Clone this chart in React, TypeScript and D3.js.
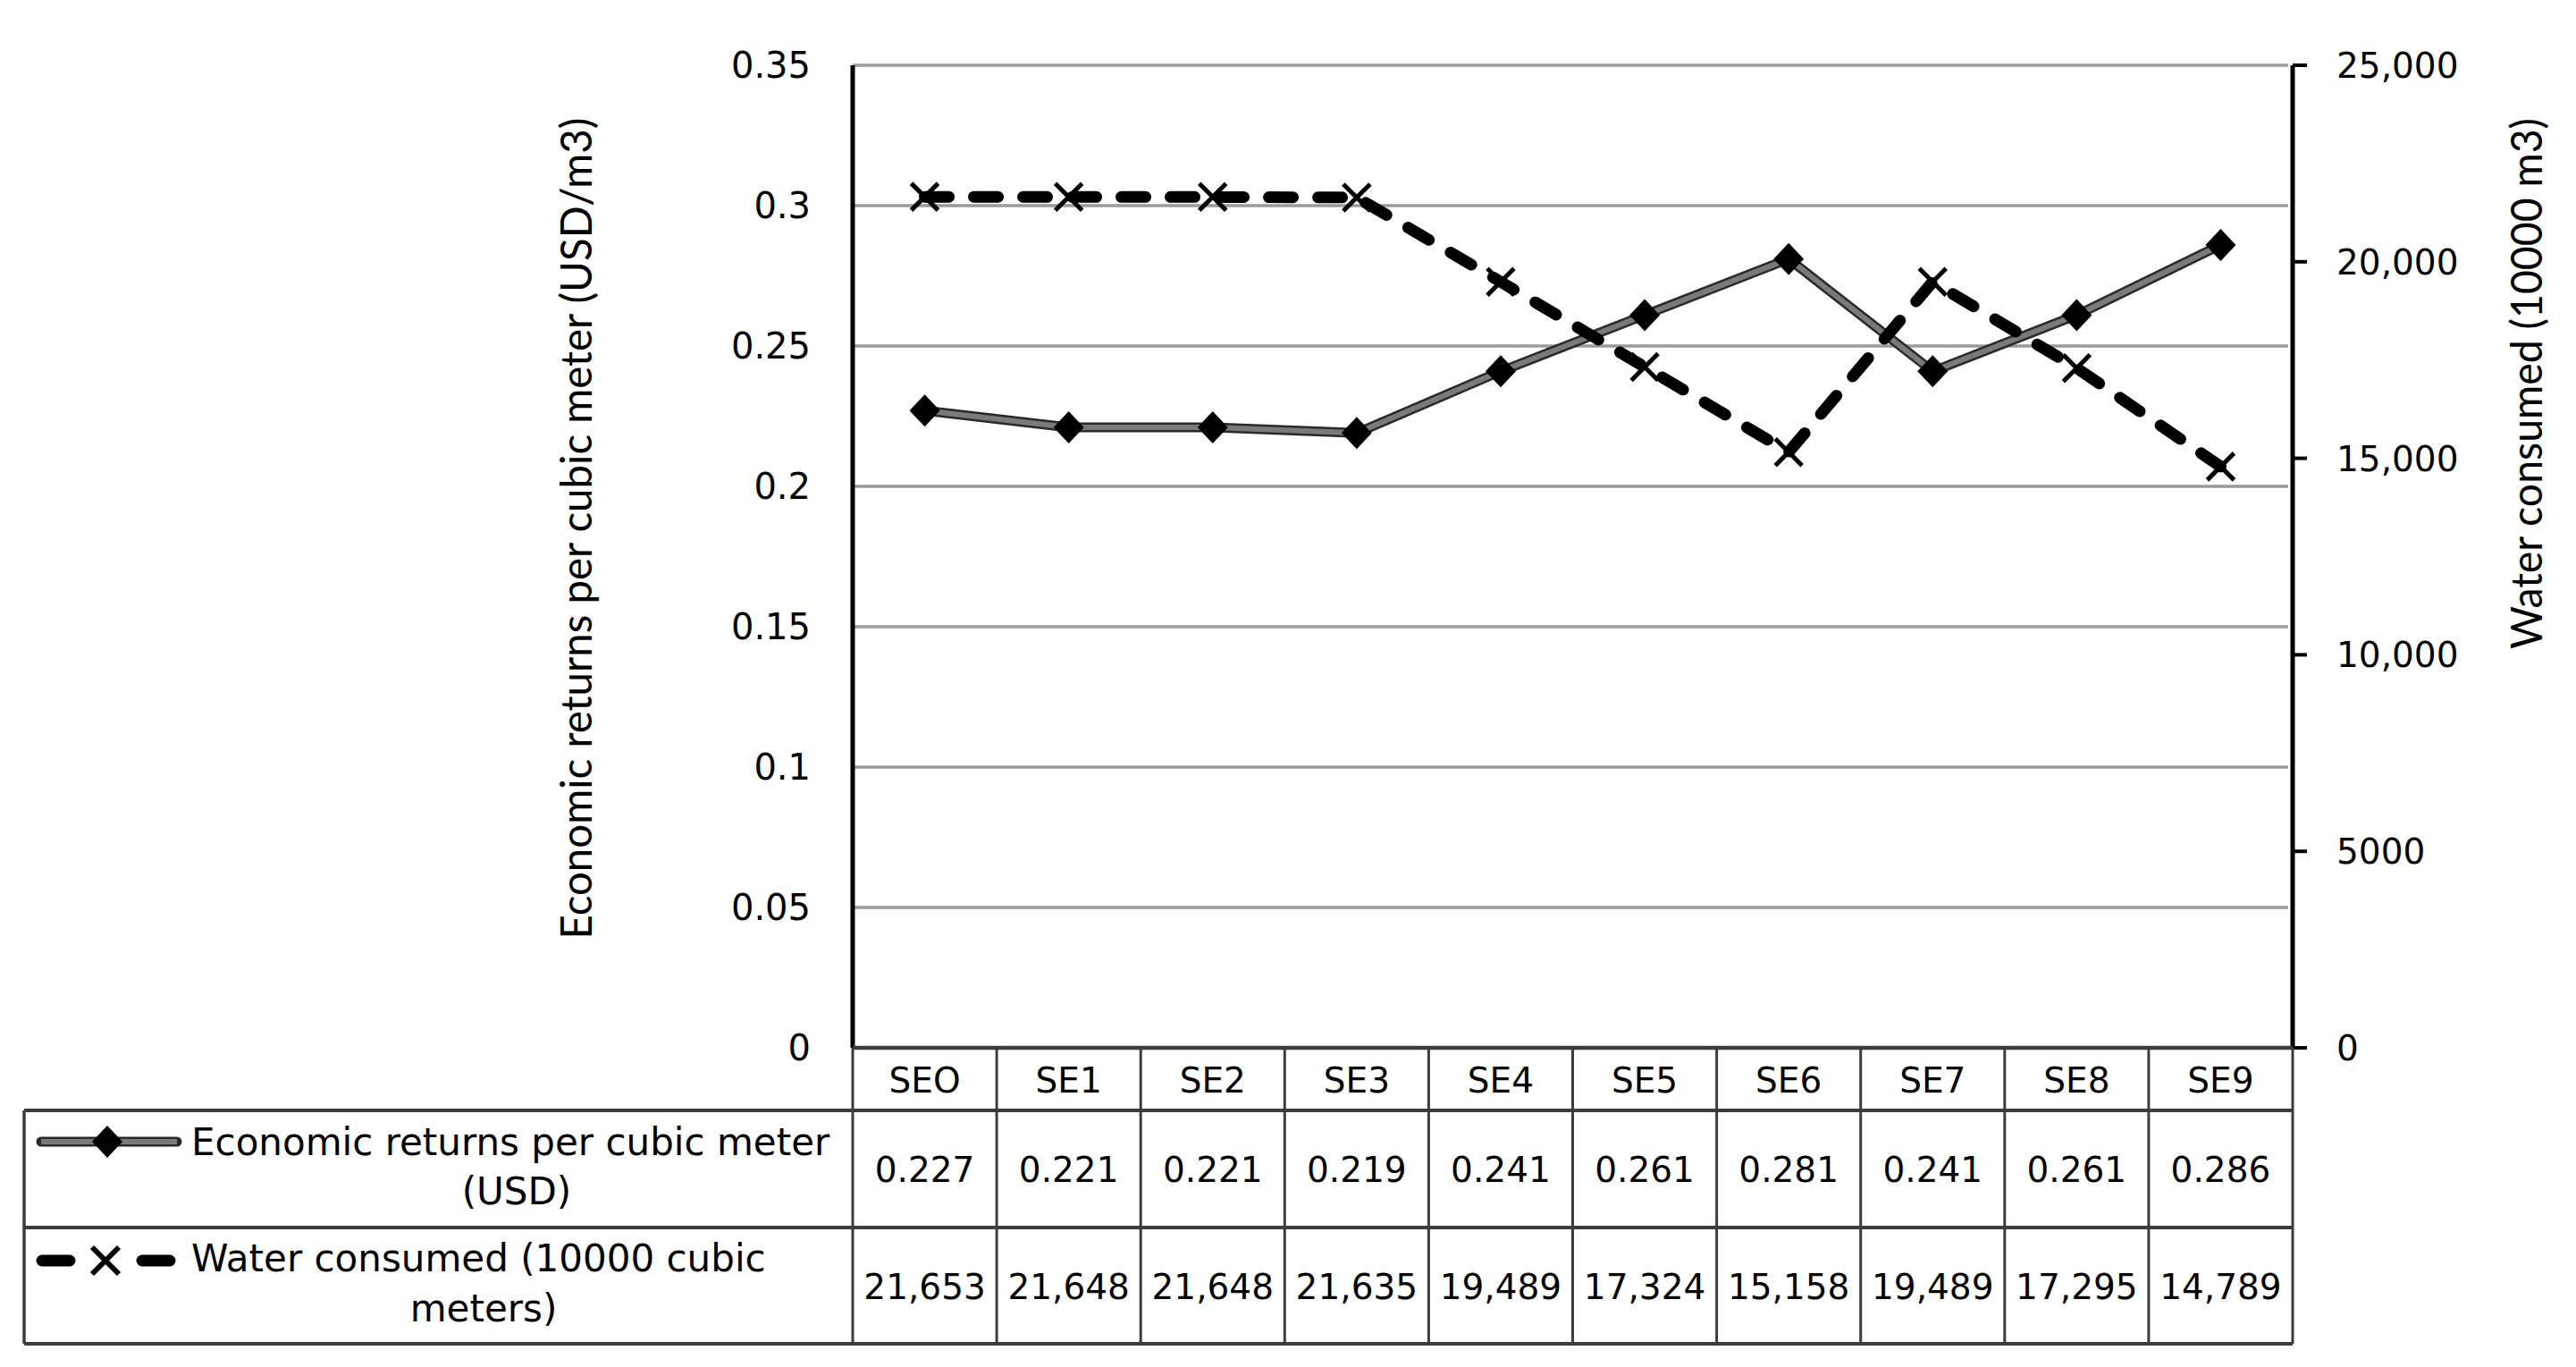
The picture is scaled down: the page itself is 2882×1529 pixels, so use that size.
import React from 'react';
import * as d3 from 'd3';

const categories = ['SEO', 'SE1', 'SE2', 'SE3', 'SE4', 'SE5', 'SE6', 'SE7', 'SE8', 'SE9'];
const economicReturns = [0.227, 0.221, 0.221, 0.219, 0.241, 0.261, 0.281, 0.241, 0.261, 0.286];
const waterConsumed = [21653, 21648, 21648, 21635, 19489, 17324, 15158, 19489, 17295, 14789];
const economicLabels = ['0.227', '0.221', '0.221', '0.219', '0.241', '0.261', '0.281', '0.241', '0.261', '0.286'];
const waterLabels = ['21,653', '21,648', '21,648', '21,635', '19,489', '17,324', '15,158', '19,489', '17,295', '14,789'];
const leftTicks = [0, 0.05, 0.1, 0.15, 0.2, 0.25, 0.3, 0.35];
const rightTicks = [0, 5000, 10000, 15000, 20000, 25000];
const rightTickLabels = ['0', '5000', '10,000', '15,000', '20,000', '25,000'];
const leftTitle = 'Economic returns per cubic meter (USD/m3)';
const rightTitle = 'Water consumed (10000 m3)';
const row1Lines = ['Economic returns per cubic meter', '(USD)'];
const row2Lines = ['Water consumed (10000 cubic', 'meters)'];

const W = 2882;
const H = 1529;
const plotL = 954;
const plotR = 2565;
const plotT = 73;
const plotB = 1172;
const tableL = 27;
const rowHeader = 1242;
const row1B = 1373;
const row2B = 1503;
const tickFont = '"DejaVu Sans", Verdana, sans-serif';
const titleFont = 'Lato, "Open Sans", sans-serif';

const diamondPath = (cx: number, cy: number) =>
  `M${cx},${cy - 18}L${cx + 17},${cy}L${cx},${cy + 18}L${cx - 17},${cy}Z`;
const xPath = (cx: number, cy: number) =>
  `M${cx - 15},${cy - 15}L${cx + 15},${cy + 15}M${cx + 15},${cy - 15}L${cx - 15},${cy + 15}`;

export default function App() {
  const x = d3.scaleBand<string>().domain(categories).range([plotL, plotR]);
  const yL = d3.scaleLinear().domain([0, 0.35]).range([plotB, plotT]);
  const yR = d3.scaleLinear().domain([0, 25000]).range([plotB, plotT]);
  const cx = (c: string) => (x(c) as number) + x.bandwidth() / 2;

  const ecoLine = d3
    .line<number>()
    .x((_, i) => cx(categories[i]))
    .y((d) => yL(d))(economicReturns) as string;
  const waterLine = d3
    .line<number>()
    .x((_, i) => cx(categories[i]))
    .y((d) => yR(d))(waterConsumed) as string;

  const boundaries = d3.range(categories.length + 1).map((i) => plotL + i * x.bandwidth());

  return (
    <svg
      width={W}
      height={H}
      viewBox={`0 0 ${W} ${H}`}
      style={{ position: 'absolute', left: 0, top: 0, background: '#fff' }}
    >
      <rect x={0} y={0} width={W} height={H} fill="#fff" />

      {/* gridlines */}
      {leftTicks.filter((t) => t > 0).map((t) => (
        <line key={'g' + t} x1={plotL} x2={plotR - 5} y1={yL(t)} y2={yL(t)} stroke="#9a9a9a" strokeWidth={3.5} />
      ))}

      {/* left tick labels */}
      {leftTicks.map((t) => (
        <text
          key={'lt' + t}
          x={907}
          y={yL(t)}
          dy="0.36em"
          textAnchor="end"
          fontFamily={tickFont}
          fontSize={40}
          fill="#000"
        >
          {String(t)}
        </text>
      ))}

      {/* right axis ticks and labels */}
      {rightTicks.map((t, i) => (
        <g key={'rt' + t}>
          <line x1={plotR} x2={plotR + 16} y1={yR(t)} y2={yR(t)} stroke="#000" strokeWidth={4} />
          <text
            x={2614}
            y={yR(t)}
            dy="0.36em"
            textAnchor="start"
            fontFamily={tickFont}
            fontSize={39}
            fill="#000"
          >
            {rightTickLabels[i]}
          </text>
        </g>
      ))}

      {/* axes */}
      <line x1={plotL} x2={plotL} y1={plotT} y2={plotB} stroke="#000" strokeWidth={5} />
      <line x1={plotR} x2={plotR} y1={plotT} y2={plotB} stroke="#000" strokeWidth={5} />

      {/* axis titles */}
      <text
        transform={`translate(662, 591) rotate(-90)`}
        textAnchor="middle"
        fontFamily={titleFont}
        fontSize={48}
        textLength={919}
        lengthAdjust="spacingAndGlyphs"
        fill="#000"
      >
        {leftTitle}
      </text>
      <text
        transform={`translate(2844, 429) rotate(-90)`}
        textAnchor="middle"
        fontFamily={titleFont}
        fontSize={48}
        textLength={594}
        lengthAdjust="spacingAndGlyphs"
        fill="#000"
      >
        {rightTitle}
      </text>

      {/* economic series */}
      <path d={ecoLine} fill="none" stroke="#2a2a2a" strokeWidth={11} strokeLinejoin="round" />
      <path d={ecoLine} fill="none" stroke="#7a7a7a" strokeWidth={6} strokeLinejoin="round" />
      {economicReturns.map((v, i) => (
        <path key={'d' + i} d={diamondPath(cx(categories[i]), yL(v))} fill="#000" />
      ))}

      {/* water series */}
      <path
        d={waterLine}
        fill="none"
        stroke="#000"
        strokeWidth={13}
        strokeDasharray="27 28"
        strokeLinecap="round"
        strokeLinejoin="round"
      />
      {waterConsumed.map((v, i) => (
        <path key={'x' + i} d={xPath(cx(categories[i]), yR(v))} fill="none" stroke="#000" strokeWidth={5} />
      ))}

      {/* data table */}
      <g fill="none" stroke="#3c3c3c">
        <line x1={plotL} x2={plotR} y1={plotB} y2={plotB} strokeWidth={4.5} />
        <line x1={tableL} x2={plotR} y1={rowHeader} y2={rowHeader} strokeWidth={4} />
        <line x1={tableL} x2={plotR} y1={row1B} y2={row1B} strokeWidth={4} />
        <line x1={tableL} x2={plotR} y1={row2B} y2={row2B} strokeWidth={4} />
        <line x1={tableL} x2={tableL} y1={rowHeader} y2={row2B} strokeWidth={3.5} />
        {boundaries.map((bx, i) => (
          <line key={'vb' + i} x1={bx} x2={bx} y1={plotB} y2={row2B} strokeWidth={3} />
        ))}
      </g>

      {categories.map((c) => (
        <text key={'h' + c} x={cx(c)} y={1222} textAnchor="middle" fontFamily={tickFont} fontSize={39} fill="#000">
          {c}
        </text>
      ))}
      {economicLabels.map((s, i) => (
        <text key={'e' + i} x={cx(categories[i])} y={1322} textAnchor="middle" fontFamily={tickFont} fontSize={39} fill="#000">
          {s}
        </text>
      ))}
      {waterLabels.map((s, i) => (
        <text key={'w' + i} x={cx(categories[i])} y={1453} textAnchor="middle" fontFamily={tickFont} fontSize={39} fill="#000">
          {s}
        </text>
      ))}

      {/* legend keys */}
      <line x1={46} x2={198} y1={1277} y2={1277} stroke="#2a2a2a" strokeWidth={11} strokeLinecap="round" />
      <line x1={46} x2={198} y1={1277} y2={1277} stroke="#7a7a7a" strokeWidth={6} />
      <path d={diamondPath(120, 1277)} fill="#000" />
      <line x1={47} x2={78} y1={1410} y2={1410} stroke="#000" strokeWidth={13} strokeLinecap="round" />
      <line x1={159} x2={190} y1={1410} y2={1410} stroke="#000" strokeWidth={13} strokeLinecap="round" />
      <path d={xPath(118, 1410)} fill="none" stroke="#000" strokeWidth={6} />

      {/* row labels */}
      <text x={214} y={1292} fontFamily={tickFont} fontSize={42} fill="#000">{row1Lines[0]}</text>
      <text x={578} y={1347} textAnchor="middle" fontFamily={tickFont} fontSize={42} fill="#000">{row1Lines[1]}</text>
      <text x={214} y={1422} fontFamily={tickFont} fontSize={42} fill="#000">{row2Lines[0]}</text>
      <text x={541} y={1478} textAnchor="middle" fontFamily={tickFont} fontSize={42} fill="#000">{row2Lines[1]}</text>
    </svg>
  );
}
